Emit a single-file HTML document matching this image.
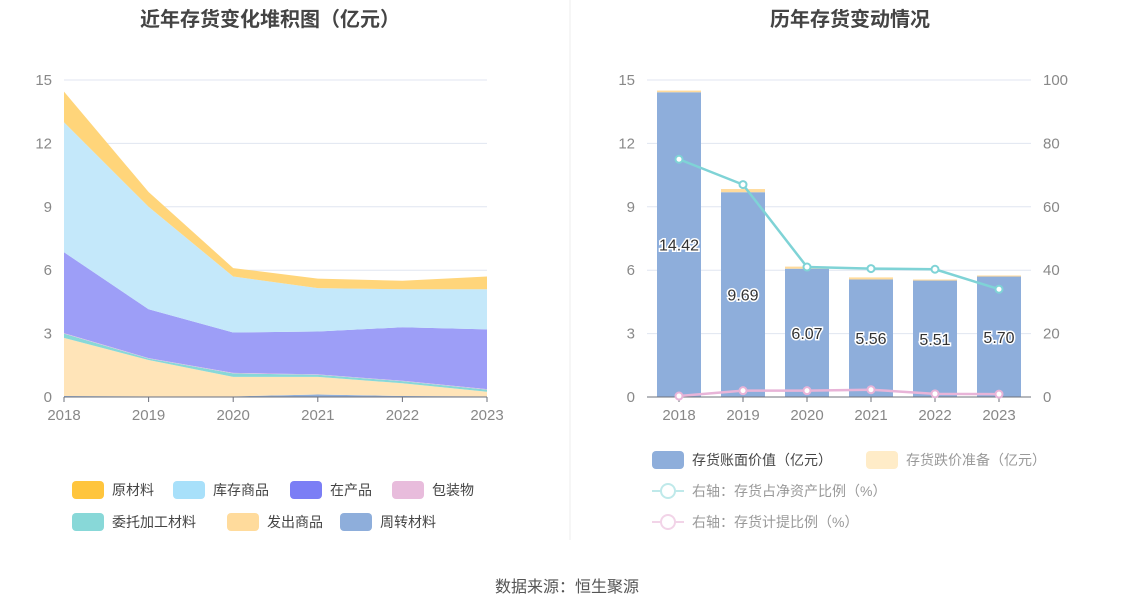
<!DOCTYPE html>
<html><head><meta charset="utf-8"><style>
body{margin:0;background:#fff;}
svg{display:block;font-family:"Liberation Sans","Noto Sans CJK SC",sans-serif;}
</style></head><body>
<svg id="c" width="1134" height="612" viewBox="0 0 1134 612">
<text x="270" y="26" text-anchor="middle" font-size="20" font-weight="bold" fill="#444">近年存货变化堆积图（亿元）</text>
<text x="850" y="26" text-anchor="middle" font-size="20" font-weight="bold" fill="#444">历年存货变动情况</text>
<line x1="570" y1="0" x2="570" y2="540" stroke="#eee"/>
<g id="left"></g>
<g id="right"></g>
<g>
<rect x="72" y="481" width="32" height="18" rx="4" fill="#ffc53d"/><text x="112" y="495" font-size="14" fill="#444">原材料</text>
<rect x="173" y="481" width="32" height="18" rx="4" fill="#a8e0fa"/><text x="213" y="495" font-size="14" fill="#444">库存商品</text>
<rect x="290" y="481" width="32" height="18" rx="4" fill="#7b7ef5"/><text x="330" y="495" font-size="14" fill="#444">在产品</text>
<rect x="392" y="481" width="32" height="18" rx="4" fill="#e8bcdc"/><text x="432" y="495" font-size="14" fill="#444">包装物</text>
<rect x="72" y="513" width="32" height="18" rx="4" fill="#88d8d8"/><text x="112" y="527" font-size="14" fill="#444">委托加工材料</text>
<rect x="227" y="513" width="32" height="18" rx="4" fill="#ffdb9c"/><text x="267" y="527" font-size="14" fill="#444">发出商品</text>
<rect x="340" y="513" width="32" height="18" rx="4" fill="#8eaedb"/><text x="380" y="527" font-size="14" fill="#444">周转材料</text>
</g>
<g>
<rect x="652" y="451" width="32" height="18" rx="4" fill="#8eaedb"/><text x="692" y="465" font-size="14" fill="#444">存货账面价值（亿元）</text>
<rect x="866" y="451" width="32" height="18" rx="4" fill="#ffecc8"/><text x="906" y="465" font-size="14" fill="#999">存货跌价准备（亿元）</text>
<line x1="652" y1="491" x2="684" y2="491" stroke="#bfe9ea" stroke-width="2"/><circle cx="668" cy="491" r="7" fill="#fff" stroke="#bfe9ea" stroke-width="2"/><text x="692" y="496" font-size="14" fill="#999">右轴：存货占净资产比例（%）</text>
<line x1="652" y1="522" x2="684" y2="522" stroke="#f2d4e8" stroke-width="2"/><circle cx="668" cy="522" r="7" fill="#fff" stroke="#f2d4e8" stroke-width="2"/><text x="692" y="527" font-size="14" fill="#999">右轴：存货计提比例（%）</text>
</g>
<text x="567" y="592" text-anchor="middle" font-size="16" fill="#555">数据来源：恒生聚源</text>
</svg>
<script>
const years=['2018','2019','2020','2021','2022','2023'];
const leftTicks=[0,3,6,9,12,15];
const revolving=[0.05,0.03,0.03,0.12,0.05,0.03];
const shipped=[2.75,1.72,0.92,0.83,0.6,0.22];
const consigned=[0.2,0.07,0.17,0.1,0.1,0.1];
const packaging=[0.02,0.02,0.02,0.02,0.02,0.02];
const wip=[3.83,2.31,1.91,2.03,2.53,2.83];
const stockGoods=[6.15,4.85,2.65,2.05,1.8,1.9];
const rawMaterial=[1.45,0.7,0.4,0.45,0.4,0.6];
const bookValue=[14.42,9.69,6.07,5.56,5.51,5.70];
const impairment=[0.08,0.15,0.1,0.1,0.05,0.05];
const ratioNetAssets=[75,67,41,40.5,40.3,34];
const provisionRatio=[0.3,2,2,2.3,1,0.9];
const rightTicks=[0,20,40,60,80,100];

const NS='http://www.w3.org/2000/svg';
function mk(p,t,a){const e=document.createElementNS(NS,t);for(const k in a)e.setAttribute(k,a[k]);p.appendChild(e);return e;}
const y0=397,yTop=80;
const yL=v=>y0-(v/15)*(y0-yTop);
const yR=v=>y0-(v/100)*(y0-yTop);
// Left chart
const L=document.getElementById('left');
const lx0=64,lx1=487;
const xL=i=>lx0+i*(lx1-lx0)/(years.length-1);
leftTicks.forEach(t=>{
 const g=mk(L,'line',{x1:lx0,x2:lx1,y1:yL(t),y2:yL(t),stroke:'#e0e6f1'});
 
 
 const tx=mk(L,'text',{x:52,y:yL(t)+5,'text-anchor':'end','font-size':15,fill:'#888'});tx.textContent=t;
 
 
});
const layers=[[revolving,'#8eaedb'],[shipped,'#ffe4b8'],[consigned,'#88d8d8'],[packaging,'#e8bcdc'],[wip,'#9d9ef7'],[stockGoods,'#c4e8fa'],[rawMaterial,'#ffd57a']];
const layerNames=['area-revolving','area-shipped','area-consigned','area-packaging','area-wip','area-stock-goods','area-raw-material'];
let base=years.map(()=>0);
layers.forEach(([arr,col],li)=>{
 const top=base.map((b,i)=>b+arr[i]);
 let d='M'+top.map((v,i)=>xL(i)+','+yL(v)).join('L');
 for(let i=years.length-1;i>=0;i--)d+='L'+xL(i)+','+yL(base[i]);
 const p=mk(L,'path',{d:d+'Z',fill:col});
 
 
 base=top;
});
mk(L,'line',{x1:lx0,x2:lx1,y1:y0,y2:y0,stroke:'#6e7079'});
years.forEach((y,i)=>{
 mk(L,'line',{x1:xL(i),x2:xL(i),y1:y0,y2:y0+5,stroke:'#6e7079'});
 const t=mk(L,'text',{x:xL(i),y:420,'text-anchor':'middle','font-size':15,fill:'#888'});t.textContent=y;
 
 
});
// Right chart
const R=document.getElementById('right');
const rx0=647,rx1=1031,bw=(rx1-rx0)/years.length;
const xR=i=>rx0+bw*(i+0.5);
leftTicks.forEach((t,k)=>{
 const g=mk(R,'line',{x1:rx0,x2:rx1,y1:yL(t),y2:yL(t),stroke:'#e0e6f1'});
 
 
 const tx=mk(R,'text',{x:635,y:yL(t)+5,'text-anchor':'end','font-size':15,fill:'#888'});tx.textContent=t;
 
 
});
rightTicks.forEach(t=>{
 const tx=mk(R,'text',{x:1043,y:yR(t)+5,'font-size':15,fill:'#888'});tx.textContent=t;
 
 
});
years.forEach((y,i)=>{
 const w=44,x=xR(i)-w/2;
 const b=mk(R,'rect',{x:x,y:yL(bookValue[i]),width:w,height:y0-yL(bookValue[i]),fill:'#8eaedb'});
 
 
 const im=mk(R,'rect',{x:x,y:yL(bookValue[i]+impairment[i]),width:w,height:yL(bookValue[i])-yL(bookValue[i]+impairment[i]),fill:'#ffdb9c'});
 
 
 const lb=mk(R,'text',{x:xR(i),y:yL(bookValue[i]/2)+6,'text-anchor':'middle','font-size':16,fill:'#333',stroke:'#fff','stroke-width':3,'paint-order':'stroke'});
 lb.textContent=bookValue[i].toFixed(2);
 
 
});
mk(R,'line',{x1:rx0,x2:rx1,y1:y0,y2:y0,stroke:'#6e7079'});
years.forEach((y,i)=>{
 mk(R,'line',{x1:xR(i),x2:xR(i),y1:y0,y2:y0+5,stroke:'#6e7079'});
 const t=mk(R,'text',{x:xR(i),y:420,'text-anchor':'middle','font-size':15,fill:'#888'});t.textContent=y;
 
 
});
[[ratioNetAssets,'#7fd3d6','line-ratio-net-assets'],[provisionRatio,'#e8b4d8','line-provision-ratio']].forEach(([arr,col,nm])=>{
 const pl=mk(R,'polyline',{points:arr.map((v,i)=>xR(i)+','+yR(v)).join(' '),fill:'none',stroke:col,'stroke-width':2.5});
 
 
 arr.forEach((v,i)=>{
  const c=mk(R,'circle',{cx:xR(i),cy:yR(v),r:3.5,fill:'#fff',stroke:col,'stroke-width':2});
  
  
 });
});
</script>
</body></html>
